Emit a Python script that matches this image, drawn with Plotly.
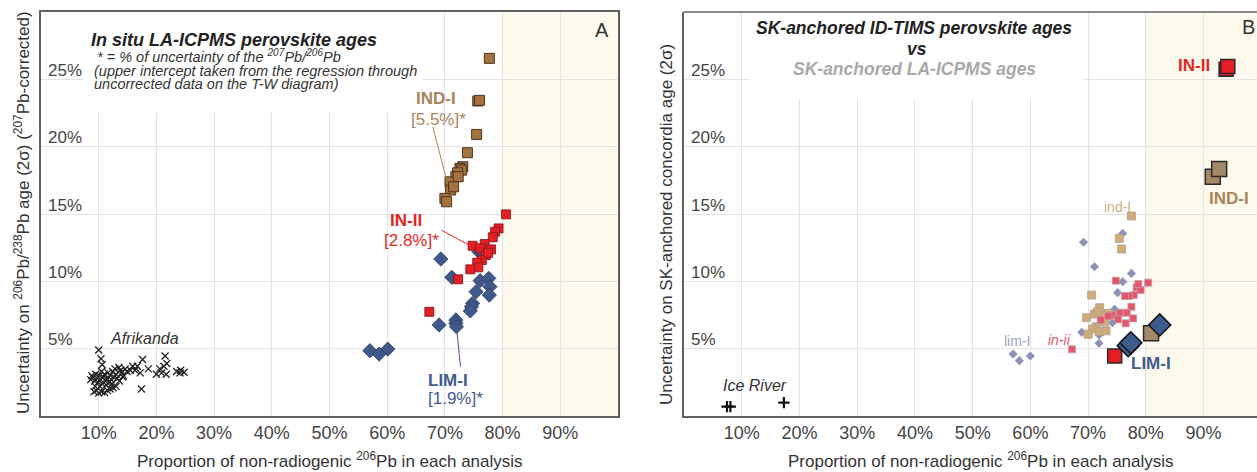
import plotly.graph_objects as go

# ---------------- DATA (percent values) ----------------
# Panel A : in situ LA-ICPMS
afr_x = [10.0, 10.4, 10.6, 9.0, 9.3, 9.5, 9.7, 9.9, 10.1, 10.3, 10.5, 10.6, 10.8, 11.0, 11.2, 11.4, 11.6,
         11.8, 12.0, 12.2, 12.4, 12.6, 12.8, 13.0, 13.2, 13.5, 13.8, 14.0, 14.3, 14.6, 14.9,
         9.2, 9.6, 10.0, 10.5, 11.0, 11.5, 12.0, 12.5, 13.0,
         8.6, 8.8, 9.4, 10.2, 11.3, 12.3, 13.6, 14.2,
         15.5, 15.9, 16.3, 16.7, 17.2, 17.6, 17.4, 18.6, 20.0, 20.6, 21.5, 21.8, 21.3, 20.9, 21.7,
         23.5, 24.1, 24.8, 24.2]
afr_y = [4.9, 4.25, 3.8, 2.9, 2.6, 3.1, 2.8, 2.5, 3.0, 2.7, 3.3, 2.4, 2.9, 3.1, 2.6, 2.8, 3.2,
         2.5, 3.0, 2.7, 3.3, 2.9, 3.5, 3.1, 2.8, 3.6, 3.4, 3.2, 3.0, 3.5, 3.3,
         1.8, 1.9, 1.7, 1.8, 1.75, 1.9, 2.0, 2.1, 2.2,
         2.7, 3.0, 2.2, 2.2, 2.3, 2.4, 2.6, 2.9,
         3.4, 3.7, 3.4, 3.7, 3.2, 4.2, 2.0, 3.5, 3.1, 3.5, 4.45, 3.9, 3.7, 3.2, 3.1,
         3.3, 3.2, 3.25, 3.4]

indA_x = [77.7, 75.7, 76.0, 75.5, 73.9, 73.1, 72.6, 72.9, 72.2, 71.9, 71.2, 70.9, 71.0, 70.0, 70.3, 72.3, 71.5]
indA_y = [26.56, 23.39, 23.44, 20.91, 19.55, 18.51, 18.39, 18.26, 18.06, 17.77, 17.28, 17.39, 16.78, 16.16, 15.91, 17.77, 17.02]

inA_x = [80.6, 79.3, 78.7, 78.3, 74.8, 76.9, 76.1, 78.0, 77.1, 76.4, 75.6, 75.8, 74.4, 72.3, 67.3, 77.5]
inA_y = [14.97, 13.93, 13.68, 13.27, 12.64, 12.77, 12.45, 12.37, 11.95, 11.58, 11.38, 11.04, 10.89, 10.15, 7.74, 12.12]

limA_x = [69.3, 71.2, 76.1, 77.6, 77.8, 77.7, 75.4, 74.8, 74.6, 74.4, 69.0, 71.9, 71.9, 72.0, 60.1, 75.9, 57.0, 58.6]
limA_y = [11.66, 10.3, 10.05, 10.22, 9.6, 8.98, 9.23, 8.37, 8.11, 7.8, 6.76, 7.13, 6.88, 6.63, 4.97, 12.2, 4.85, 4.6]

# Panel B : SK-anchored
ice_x = [7.45, 8.04, 17.3]
ice_y = [0.69, 0.69, 0.99]

indB_s_x = [77.5, 75.4, 75.8, 70.6, 72.0, 71.1, 69.7, 72.5, 73.5, 72.9, 71.4, 70.8, 70.0, 72.0, 73.1, 71.6]
indB_s_y = [14.85, 13.19, 12.4, 8.98, 8.04, 7.57, 7.3, 7.5, 7.62, 7.0, 6.63, 6.46, 6.07, 6.26, 6.33, 7.74]

inB_s_x = [67.2, 74.8, 80.4, 78.4, 79.1, 78.7, 77.9, 77.1, 76.4, 77.5, 75.5, 76.7, 74.2, 75.2, 76.5, 77.8, 72.2, 73.5]
inB_s_y = [4.95, 10.05, 9.9, 9.55, 9.35, 9.8, 8.98, 8.91, 8.91, 8.11, 7.67, 7.67, 7.5, 7.18, 6.88, 7.25, 7.13, 7.42]

limB_s_x = [57.0, 58.1, 60.0, 69.2, 76.0, 71.1, 77.5, 76.0, 75.1, 74.6, 74.2, 68.9, 71.9, 71.9]
limB_s_y = [4.6, 4.11, 4.45, 12.9, 13.56, 11.08, 10.59, 9.97, 9.16, 7.92, 6.93, 6.21, 6.01, 5.4]

inB_L_x = [93.9, 94.2, 74.6]
inB_L_y = [25.75, 25.95, 4.45]
indB_L_x = [91.6, 92.7, 80.9]
indB_L_y = [17.77, 18.34, 6.14]
limB_L_x = [76.95, 77.4, 82.4]
limB_L_y = [5.22, 5.44, 6.76]

x_ticks = [10, 20, 30, 40, 50, 60, 70, 80, 90]
y_ticks = [5, 10, 15, 20, 25]

# ---------------- FIGURE ----------------
W, H = 1257, 472
FONT = "Liberation Sans, Arial, sans-serif"


def pct(v):
    return [a / 100.0 for a in v]


def px(x):
    return x / W


def py(y):
    return 1 - y / H


fig = go.Figure()


def sc(x, y, xa, ya, symbol, size, color, lc, lw, name):
    fig.add_trace(go.Scatter(x=pct(x), y=pct(y), mode="markers", xaxis=xa, yaxis=ya, name=name,
                             marker=dict(symbol=symbol, size=size, color=color,
                                         line=dict(color=lc, width=lw)),
                             showlegend=False, hoverinfo="skip"))


# Panel A
sc(afr_x, afr_y, "x", "y", "x-thin", 7, "#222", "#222", 1.3, "Afrikanda")
sc(limA_x, limA_y, "x", "y", "diamond", 11, "#40598a", "#2b3d63", 0.8, "LIM-I")
sc(inA_x, inA_y, "x", "y", "square", 9, "#e51f26", "#7a1515", 0.8, "IN-II")
sc(indA_x, indA_y, "x", "y", "square", 10, "#a4733e", "#4a3520", 1.0, "IND-I")

# Panel B
sc(ice_x, ice_y, "x2", "y2", "cross-thin", 8, "#111", "#111", 2.2, "Ice River")
sc(limB_s_x, limB_s_y, "x2", "y2", "diamond", 7, "#8d92b9", "#8d92b9", 0, "lim-I")
sc(indB_s_x, indB_s_y, "x2", "y2", "square", 8, "#cfac78", "#b0a090", 0.8, "ind-I")
sc(inB_s_x, inB_s_y, "x2", "y2", "square", 7, "#e3566c", "#c89aa2", 0.8, "in-ii")
sc(inB_L_x, inB_L_y, "x2", "y2", "square", 14, "#e41e24", "#2a2a2a", 1.5, "IN-II TIMS")
sc(indB_L_x, indB_L_y, "x2", "y2", "square", 15, "#a3886a", "#2a2a2a", 1.5, "IND-I TIMS")
sc(limB_L_x, limB_L_y, "x2", "y2", "diamond", 17, "#3e5b8d", "#111", 1.5, "LIM-I TIMS")

tickvals = [t / 100 for t in x_ticks]
ticktext = [f"{t}%" for t in x_ticks]
xb_max = (W - 684.3) / 577.0

axis_common = dict(showgrid=True, gridcolor="#e3e3e3", gridwidth=1, zeroline=False, ticks="",
                   showline=True, linecolor="#606060", linewidth=1.6,
                   tickfont=dict(size=18, color="#444", family=FONT))

fig.update_layout(
    width=W, height=H, margin=dict(l=0, r=0, t=0, b=0),
    paper_bgcolor="white", plot_bgcolor="white",
    font=dict(family=FONT, color="#333"),
    xaxis=dict(domain=[px(41), px(618)], range=[0, 1.0], tickvals=tickvals, ticktext=ticktext,
               mirror=True, anchor="y", **axis_common),
    yaxis=dict(domain=[py(416), py(12)], range=[0, 0.30], tickvals=[t / 100 for t in y_ticks],
               showticklabels=False, mirror=True, anchor="x", **axis_common),
    xaxis2=dict(domain=[px(684), 1.0], range=[0, xb_max], tickvals=tickvals, ticktext=ticktext,
                mirror=False, anchor="y2", **axis_common),
    yaxis2=dict(domain=[py(416), py(12)], range=[0, 0.30], tickvals=[t / 100 for t in y_ticks],
                showticklabels=False, mirror=False, anchor="x2", **axis_common),
)

shapes = []
# shaded zone >80 %
shapes.append(dict(type="rect", xref="x", yref="y", x0=0.8, x1=1.0, y0=0, y1=0.30,
                   fillcolor="#fdf9ec", line=dict(width=0), layer="below"))
shapes.append(dict(type="rect", xref="x2", yref="y2", x0=0.8, x1=xb_max, y0=0, y1=0.30,
                   fillcolor="#fdf9ec", line=dict(width=0), layer="below"))
# white boxes behind titles (hide gridlines)
shapes.append(dict(type="rect", xref="x", yref="y", x0=(83 - 41) / 577, x1=(423 - 41) / 577,
                   y0=(416 - 113) / 1347, y1=0.2995, fillcolor="white", line=dict(width=0),
                   layer="between"))
shapes.append(dict(type="rect", xref="x2", yref="y2", x0=(750 - 684.3) / 577, x1=(1083 - 684.3) / 577,
                   y0=(416 - 99) / 1347, y1=0.2995, fillcolor="white", line=dict(width=0),
                   layer="between"))
# panel B top border
shapes.append(dict(type="line", xref="x2 domain", yref="y2 domain", x0=0, x1=1, y0=1, y1=1,
                   line=dict(color="#606060", width=1.6)))
# leader lines
shapes.append(dict(type="line", xref="x", yref="y", x0=0.679, y0=0.2148, x1=0.703, y1=0.1752,
                   line=dict(color="#a9845a", width=1)))
shapes.append(dict(type="line", xref="x", yref="y", x0=0.694, y0=0.138, x1=0.746, y1=0.126,
                   line=dict(color="#e4261f", width=1)))
shapes.append(dict(type="line", xref="x", yref="y", x0=0.727, y0=0.0366, x1=0.720, y1=0.0663,
                   line=dict(color="#3f5b8f", width=1)))
fig.update_layout(shapes=shapes)


def ann(text, x, y, size=17, color="#333", xanchor="center", angle=0):
    fig.add_annotation(text=text, x=px(x), y=py(y), xref="paper", yref="paper", showarrow=False,
                       xanchor=xanchor, yanchor="middle", textangle=angle,
                       font=dict(size=size, color=color, family=FONT))


# y tick labels placed inside the plots, above the gridlines
for t in y_ticks:
    for xr, yr in (("x domain", "y"), ("x2 domain", "y2")):
        fig.add_annotation(text=f"{t}%", x=0, y=t / 100, xref=xr, yref=yr, showarrow=False,
                           xanchor="left", yanchor="middle", xshift=5, yshift=9,
                           font=dict(size=17, color="#444", family=FONT))

# Panel A texts
ann("<b><i>In situ LA-ICPMS perovskite ages</i></b>", 89, 40, 18, "#222", "left")
ann("<i>* = % of uncertainty of the <sup>207</sup>Pb/<sup>206</sup>Pb</i>", 95, 56, 14.5, "#333", "left")
ann("<i>(upper intercept taken from the regression through</i>", 92, 71, 14.5, "#333", "left")
ann("<i>uncorrected data on the T-W diagram)</i>", 92, 84, 14.5, "#333", "left")
ann("A", 602, 30, 20, "#333")
ann("<b>IND-I</b>", 436, 98, 17, "#a9845a")
ann("[5.5%]*", 438, 119, 17, "#a9845a")
ann("<b>IN-II</b>", 406, 220, 17, "#e4261f")
ann("[2.8%]*", 411, 240, 17, "#e4261f")
ann("<b>LIM-I</b>", 448, 380, 17, "#3f5b8f")
ann("[1.9%]*", 455, 398, 17, "#3f5b8f")
ann("<i>Afrikanda</i>", 144, 338, 16, "#333")
ann("Proportion of non-radiogenic <sup>206</sup>Pb in each analysis", 330, 460, 17, "#333")
ann("Uncertainty on <sup>206</sup>Pb/<sup>238</sup>Pb age (2σ) (<sup>207</sup>Pb-corrected)", 22, 213, 17,
    "#333", angle=-90)

# Panel B texts
ann("<b><i>SK-anchored ID-TIMS perovskite ages</i></b>", 914, 28, 17.5, "#222")
ann("<b><i>vs</i></b>", 917, 49, 17.5, "#222")
ann("<b><i>SK-anchored LA-ICPMS ages</i></b>", 914, 69, 17.5, "#a8a8a8")
ann("B", 1248, 27, 20, "#333")
ann("<b>IN-II</b>", 1194, 66, 17, "#e4261f")
ann("<b>IND-I</b>", 1229, 198, 17, "#a9845a")
ann("<b>LIM-I</b>", 1151, 363, 17, "#3f5b8f")
ann("ind-I", 1117, 207, 14, "#cdb088")
ann("<i>in-ii</i>", 1059, 340, 14, "#e0566c")
ann("lim-I", 1017, 341, 14, "#9ea2c2")
ann("<i>Ice River</i>", 755, 385, 16, "#333")
ann("Proportion of non-radiogenic <sup>206</sup>Pb in each analysis", 981, 460, 17, "#333")
ann("Uncertainty on SK-anchored concordia age (2σ)", 667, 225, 17, "#333", angle=-90)

fig.write_html("out.html", config={"displayModeBar": False},
               post_script="document.body.style.margin='0';document.body.style.overflow='hidden';")
